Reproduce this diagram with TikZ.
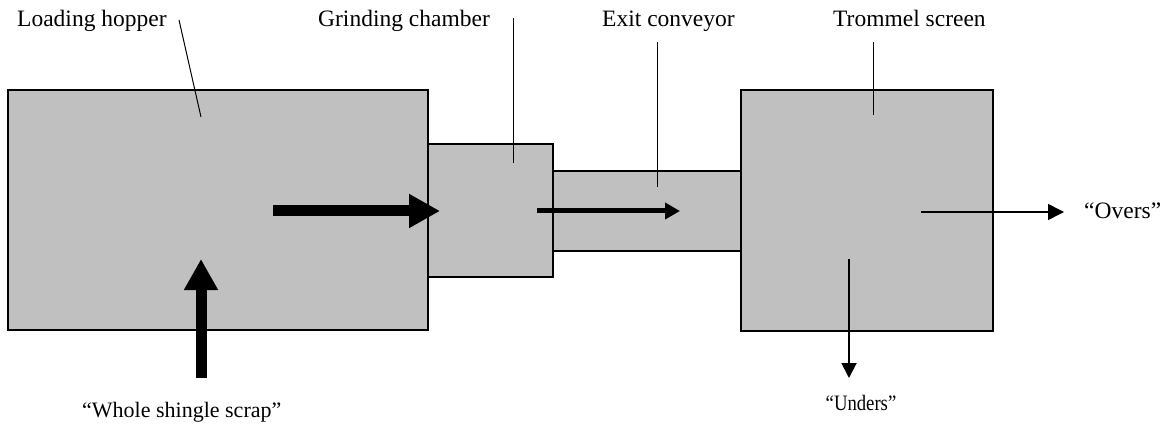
\documentclass[tikz,border=0pt]{standalone}
\usepackage{fontspec}
\setmainfont{Liberation Serif}
\usetikzlibrary{arrows.meta}
\begin{document}
\begin{tikzpicture}[x=1pt,y=-1pt,
  unitbox/.style={draw=black,line width=1.2pt,fill={rgb,255:red,192;green,192;blue,192},anchor=north west,inner sep=0pt,outer sep=0pt},
  lbl/.style={font=\fontsize{23.5}{28}\selectfont,inner sep=0pt,anchor=base west},
  leader/.style={draw=black,line width=1pt},
  bigarrow/.style={line width=11pt,-{Triangle[length=31pt,width=32pt]}},
  midarrow/.style={line width=5pt,-{Triangle[length=15pt,width=16pt]}},
  thinarrow/.style={line width=1.5pt,-{Triangle[length=16pt,width=16pt]}}]
\useasboundingbox (0,0) rectangle (1174,438);
% boxes
\node[unitbox,minimum width=420pt,minimum height=240pt] (hopper) at (8,90) {};
\node[unitbox,minimum width=125pt,minimum height=133pt] (grind) at (428,144) {};
\node[unitbox,minimum width=188pt,minimum height=80pt] (conv) at (553,171) {};
\node[unitbox,minimum width=252pt,minimum height=241pt] (trommel) at (741,90) {};
% labels
\node[lbl] (lhop) at (17,27) {Loading hopper};
\node[lbl] (lgrind) at (318,27) {Grinding chamber};
\node[lbl] (lconv) at (602,27) {Exit conveyor};
\node[lbl] (ltrom) at (833,27) {Trommel screen};
\node[lbl] (lovers) at (1084,219) {“Overs”};
\node[lbl,font=\fontsize{22}{26}\selectfont,anchor=base,xscale=0.85] (lunders) at (861,410) {“Unders”};
\node[lbl,font=\fontsize{22}{26}\selectfont] (lwhole) at (82,417) {“Whole shingle scrap”};
% leader lines
\coordinate (h1) at (179,20); \coordinate (h2) at (201,117);
\coordinate (g1) at (513,18); \coordinate (g2) at (513,163);
\coordinate (c1) at (657,42); \coordinate (c2) at (657,187);
\coordinate (t1) at (873,42); \coordinate (t2) at (873,115);
\draw[leader] (h1) -- (h2);
\draw[leader] (g1) -- (g2);
\draw[leader] (c1) -- (c2);
\draw[leader] (t1) -- (t2);
% flow arrows
\coordinate (a1s) at (273,211); \coordinate (a1e) at (440,211);
\coordinate (a2s) at (201,378); \coordinate (a2e) at (201,259);
\coordinate (a3s) at (537,211); \coordinate (a3e) at (680,211);
\coordinate (a4s) at (921,212); \coordinate (a4e) at (1064,212);
\coordinate (a5s) at (849,259); \coordinate (a5e) at (849,378);
\draw[bigarrow] (a1s) -- (a1e);
\draw[bigarrow] (a2s) -- (a2e);
\draw[midarrow] (a3s) -- (a3e);
\draw[thinarrow] (a4s) -- (a4e);
\draw[line width=2pt,-{Triangle[length=15pt,width=15pt]}] (a5s) -- (a5e);
\end{tikzpicture}
\end{document}
